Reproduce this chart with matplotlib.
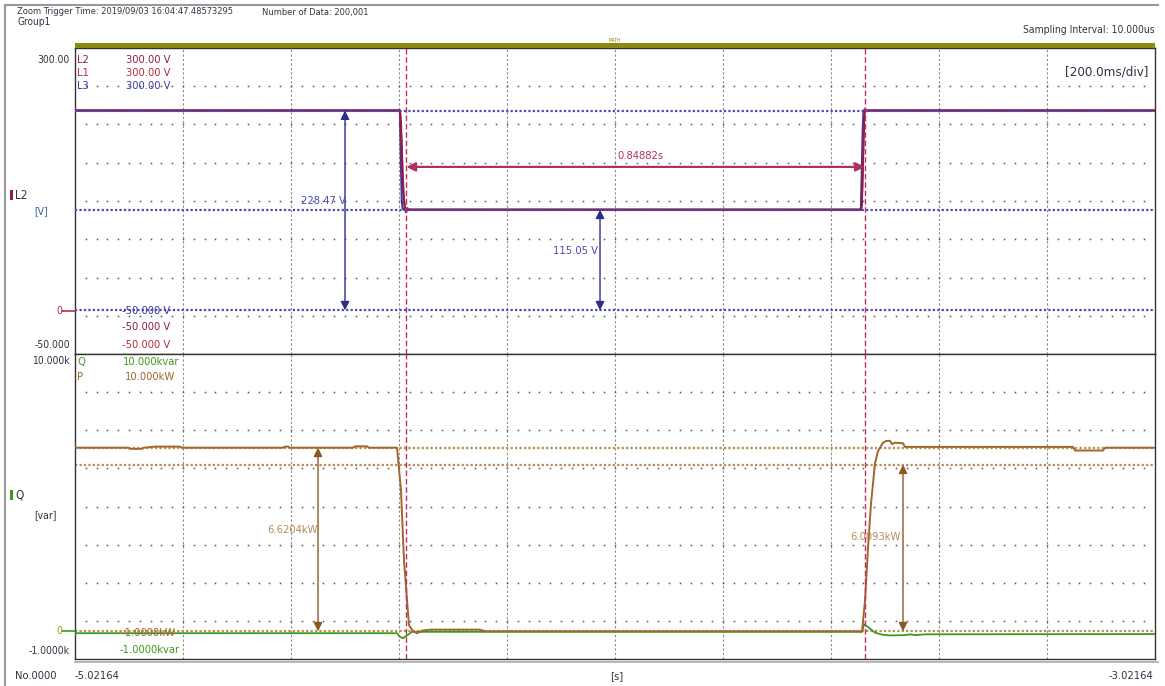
import matplotlib
matplotlib.use('Agg')
import matplotlib.pyplot as plt
from matplotlib import font_manager
import numpy as np

# ---- data (time in s, voltage in V, power in kW) ----
T_START, T_END = -5.02164, -3.02164

l2_t = [-5.02164, -4.4200, -4.4180, -4.4160, -4.4140, -4.4110, -4.4085, -4.4065, -4.4045,
        -3.5661, -3.5645, -3.5625, -3.5605, -3.5590, -3.5575, -3.02164]
l2_v = [228.5, 228.5, 215, 175, 135, 118, 112, 116, 115.05,
        115.05, 120, 170, 215, 230, 228.5, 228.5]
l1_t = [-5.02164, -4.4195, -4.4175, -4.4150, -4.4120, -4.4090, -4.4060, -4.4040,
        -3.5655, -3.5635, -3.5615, -3.5595, -3.5580, -3.02164]
l1_v = [228.5, 228.5, 200, 160, 125, 113, 117, 115.05,
        115.05, 140, 190, 226, 228.5, 228.5]
l3_t = [-5.02164, -4.4200, -4.4185, -4.4165, -4.4150, -4.4130,
        -3.5664, -3.5650, -3.5630, -3.5615, -3.02164]
l3_v = [228.5, 228.5, 180, 125, 117, 115.05,
        115.05, 150, 205, 228.5, 228.5]

p_t = [-5.02164, -4.9235, -4.9198, -4.8976, -4.8939, -4.8735, -4.8272, -4.8235,
       -4.6365, -4.6328, -4.6272, -4.6235, -4.5068, -4.5031, -4.4809, -4.4772,
       -4.4253, -4.4179, -4.4124, -4.4068, -4.4031, -4.3957, -4.3883, -4.3790,
       -4.3642, -4.2716, -4.2624, -3.5642, -3.5587, -3.5531, -3.5476, -3.5402,
       -3.5346, -3.5253, -3.5198, -3.5124, -3.5087, -3.5031, -3.4883, -3.4846,
       -3.1735, -3.1698, -3.1179, -3.1142, -3.02164]
p_kw = [6.62, 6.62, 6.58, 6.58, 6.62, 6.66, 6.66, 6.62,
        6.62, 6.66, 6.66, 6.62, 6.62, 6.67, 6.67, 6.62,
        6.62, 5.07, 2.55, 1.12, 0.22, 0.0, -0.07, 0.02,
        0.06, 0.06, 0.0, 0.0, 1.1, 3.0, 4.6, 6.05,
        6.5, 6.8, 6.86, 6.87, 6.75, 6.8, 6.78, 6.65,
        6.65, 6.52, 6.52, 6.62, 6.62]

q_t = [-5.02164, -4.4253, -4.4198, -4.4142, -4.4068, -4.3976, -3.5642, -3.5605,
       -3.5531, -3.5402, -3.5272, -3.5124, -3.4846, -3.4750, -3.4650, -3.4476, -3.02164]
q_kvar = [-0.07, -0.07, -0.2, -0.25, -0.15, -0.02, -0.02, 0.25,
          0.15, -0.05, -0.12, -0.15, -0.14, -0.11, -0.14, -0.11, -0.1]

v_high, v_low = 228.47, 115.05
p_before, p_after = 6.6204, 6.0093
cursor_t1 = -4.4080
cursor_dt = 0.84882

# ---- style: pick the narrowest sans available ----
fonts = font_manager.fontManager.ttflist
if any(f.name == 'Liberation Sans Narrow' for f in fonts):
    plt.rcParams['font.family'] = ['Liberation Sans Narrow', 'DejaVu Sans']
    FS = 8.5
elif any(f.name == 'DejaVu Sans' and 'condensed' in str(f.stretch) for f in fonts):
    plt.rcParams['font.family'] = ['DejaVu Sans']
    plt.rcParams['font.stretch'] = 'condensed'
    FS = 7.5
else:
    plt.rcParams['font.family'] = ['Liberation Sans', 'DejaVu Sans']
    FS = 7.5

C_L2 = '#8c1d4f'
C_L1 = '#b0303a'
C_L3 = '#3a3a9c'
C_CUR = '#c03060'
C_P = '#a0662a'
C_PDOT = '#b88a5a'
C_Q = '#3a9a1a'
C_TXT = '#333344'
GRID = '#8a8a8a'

W, H = 1165, 686
fig = plt.figure(figsize=(W / 100, H / 100), dpi=100)
fig.patch.set_facecolor('white')


def px(x, y):
    return x / W, 1 - y / H


def ftext(x, y, s, **kw):
    kw.setdefault('fontsize', FS)
    kw.setdefault('color', C_TXT)
    kw.setdefault('va', 'center')
    fig.text(*px(x, y), s, **kw)


left, right = 75, 1155
ax1 = fig.add_axes([left / W, 1 - 354 / H, (right - left) / W, (354 - 48) / H])
ax2 = fig.add_axes([left / W, 1 - 659 / H, (right - left) / W, (659 - 354) / H])
ax1.set_ylim(-50, 300)
ax2.set_ylim(-1, 10)

for ax in (ax1, ax2):
    ax.set_xlim(T_START, T_END)
    ax.set_xticks([])
    ax.set_yticks([])
    for sp in ax.spines.values():
        sp.set_color('#333333')
        sp.set_linewidth(1.0)
    # vertical division lines
    for k in range(1, 10):
        ax.axvline(T_START + 0.2 * k, color=GRID, lw=0.8, ls=(0, (2, 2)), zorder=1)
    # dotted horizontal division rows
    xs = T_START + 0.02 * np.arange(1, 100)
    y0, y1 = ax.get_ylim()
    for k in range(1, 8):
        yv = y0 + (y1 - y0) * k / 8
        ax.plot(xs, np.full_like(xs, yv), ls='none', marker='s', ms=1.1,
                mew=0, color='#555555', zorder=1)

# ---- top panel: voltages ----
for yv in (v_high, v_low, 0):
    ax1.axhline(yv, color='#4a4ab0', lw=1.6, ls=(0, (1, 1)), zorder=4)
ax1.plot(l3_t, l3_v, color=C_L3, lw=1.5, zorder=2)
ax1.plot(l1_t, l1_v, color=C_L1, lw=1.3, zorder=3)
ax1.plot(l2_t, l2_v, color=C_L2, lw=1.5, zorder=3)
for tc in (cursor_t1, cursor_t1 + cursor_dt):
    ax1.axvline(tc, color=C_CUR, lw=1.0, ls=(0, (4, 2)), zorder=5)
    ax2.axvline(tc, color=C_CUR, lw=1.0, ls=(0, (4, 2)), zorder=5)

arr = dict(arrowstyle='<|-|>', mutation_scale=13, lw=1.0, shrinkA=0, shrinkB=0)
ax1.annotate('', xy=(-4.5216, v_high), xytext=(-4.5216, 0),
             arrowprops=dict(arr, color='#2c2c8c'), zorder=6)
ax1.annotate('', xy=(-4.0494, v_low), xytext=(-4.0494, 0),
             arrowprops=dict(arr, color='#2c2c8c'), zorder=6)
ax1.annotate('', xy=(cursor_t1, 164), xytext=(cursor_t1 + cursor_dt, 164),
             arrowprops=dict(arr, color='#b03060', lw=1.6), zorder=6)
ax1.text(-4.5616, 125, f'{v_high:.2f} V', color='#4a4ab0', fontsize=FS + 0.5,
         ha='center', va='center', zorder=7)
ax1.text(-4.0944, 68, f'{v_low:.2f} V', color='#4a4ab0', fontsize=FS + 0.5,
         ha='center', va='center', zorder=7)
ax1.text(-3.9754, 176, f'{cursor_dt:.5f}s', color='#b03060', fontsize=FS + 0.5,
         ha='center', va='center', zorder=7)

# channel scale labels inside top panel
for yf, name, col in ((0.961, 'L2', C_L2), (0.918, 'L1', C_L1), (0.876, 'L3', C_L3)):
    ax1.text(0.002, yf, name, transform=ax1.transAxes, color=col, fontsize=FS + 0.5,
             va='center', ha='left')
    ax1.text(0.088, yf, '300.00 V', transform=ax1.transAxes, color=col, fontsize=FS + 0.5,
             va='center', ha='right')
for yf, col in ((0.1405, C_L3), (0.088, C_L2), (0.029, C_L1)):
    ax1.text(0.088, yf, '-50.000 V', transform=ax1.transAxes, color=col, fontsize=FS + 0.5,
             va='center', ha='right', zorder=7)
ax1.text(0.9935, 0.92, '[200.0ms/div]', transform=ax1.transAxes, color=C_TXT,
         fontsize=FS + 2, va='center', ha='right')

# ---- bottom panel: P and Q ----
for yv in (p_before, p_after, 0):
    ax2.axhline(yv, color=C_PDOT, lw=1.6, ls=(0, (1, 1)), zorder=2)
ax2.plot(q_t, q_kvar, color=C_Q, lw=1.3, zorder=3)
ax2.plot(p_t, p_kw, color=C_P, lw=1.4, zorder=4)

ax2.annotate('', xy=(-4.5716, p_before), xytext=(-4.5716, 0),
             arrowprops=dict(arr, color='#8c5a20'), zorder=6)
ax2.annotate('', xy=(-3.4883, p_after), xytext=(-3.4883, 0),
             arrowprops=dict(arr, color='#8c5a20'), zorder=6)
ax2.text(-4.6180, 3.66, f'{p_before:.4f}kW', color=C_PDOT, fontsize=FS + 0.5,
         ha='center', va='center', zorder=7)
ax2.text(-3.5400, 3.40, f'{p_after:.4f}kW', color=C_PDOT, fontsize=FS + 0.5,
         ha='center', va='center', zorder=7)

ax2.text(0.002, 0.974, 'Q', transform=ax2.transAxes, color=C_Q, fontsize=FS + 0.5, va='center')
ax2.text(0.097, 0.974, '10.000kvar', transform=ax2.transAxes, color=C_Q, fontsize=FS + 0.5,
         va='center', ha='right')
ax2.text(0.002, 0.925, 'P', transform=ax2.transAxes, color=C_P, fontsize=FS + 0.5, va='center')
ax2.text(0.093, 0.925, '10.000kW', transform=ax2.transAxes, color=C_P, fontsize=FS + 0.5,
         va='center', ha='right')
ax2.text(0.093, 0.085, '-1.0000kW', transform=ax2.transAxes, color=C_P, fontsize=FS + 0.5,
         va='center', ha='right', zorder=7)
ax2.text(0.097, 0.030, '-1.0000kvar', transform=ax2.transAxes, color=C_Q, fontsize=FS + 0.5,
         va='center', ha='right', zorder=7)

# ---- surrounding texts ----
ftext(17, 12, 'Zoom Trigger Time: 2019/09/03 16:04:47.48573295', fontsize=FS - 0.8)
ftext(17, 22, 'Group1', fontsize=FS - 0.3)
ftext(262, 12, 'Number of Data: 200,001', fontsize=FS - 0.8)
ftext(1155, 30, 'Sampling Interval: 10.000us', ha='right')
fig.add_artist(plt.Rectangle(px(75, 48), (right - left) / W, 5 / H,
                             transform=fig.transFigure, color='#8a8a10', lw=0))
ftext(615, 40, 'MATH', fontsize=3.5, color='#8a8a10', ha='center')

ftext(70, 60, '300.00', ha='right')
ftext(62, 311, '0', ha='right', color='#b03050')
fig.add_artist(plt.Line2D([62 / W, 75 / W], [1 - 311 / H] * 2, color='#b03050', lw=1.2))
ftext(70, 345, '-50.000', ha='right')
ftext(70, 361, '10.000k', ha='right')
ftext(62, 631, '0', ha='right', color='#9aa020')
fig.add_artist(plt.Line2D([62 / W, 75 / W], [1 - 631 / H] * 2, color=C_Q, lw=1.2))
ftext(70, 651, '-1.0000k', ha='right')
ftext(15, 676, 'No.0000', fontsize=FS + 0.5)
ftext(75, 676, '-5.02164', fontsize=FS + 0.5)
ftext(617, 676, '[s]', ha='center', fontsize=FS + 0.5)
ftext(1153, 676, '-3.02164', ha='right', fontsize=FS + 0.5)

fig.add_artist(plt.Rectangle(px(10, 200), 3 / W, 10 / H, transform=fig.transFigure,
                             color=C_L2, lw=0))
ftext(15, 195, 'L2', fontsize=FS + 1)
ftext(34, 211, '[V]', color='#3060a0')
fig.add_artist(plt.Rectangle(px(10, 500), 3 / W, 10 / H, transform=fig.transFigure,
                             color=C_Q, lw=0))
ftext(15, 495, 'Q', fontsize=FS + 1)
ftext(34, 515, '[var]')

# outer frame
fig.add_artist(plt.Line2D([5 / W, 5 / W], [0, 1 - 5 / H], color='#999999', lw=1.5))
fig.add_artist(plt.Line2D([5 / W, 1158 / W], [1 - 5 / H] * 2, color='#999999', lw=1.5))
fig.add_artist(plt.Line2D([75 / W, 1158 / W], [1 - 662 / H] * 2, color='#aaaaaa', lw=1.2))

fig.savefig('out.png', dpi=100)
